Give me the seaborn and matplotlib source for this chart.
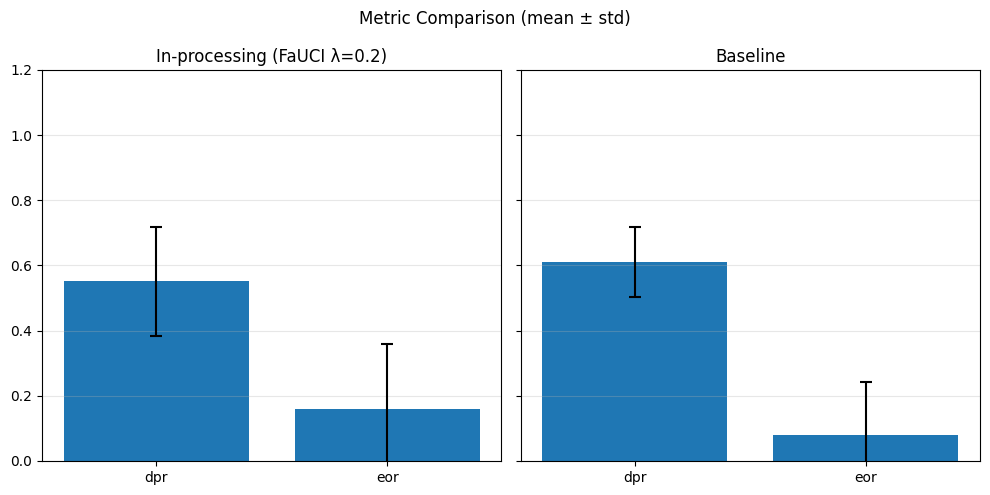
import matplotlib
matplotlib.use("Agg")
import matplotlib.pyplot as plt
import seaborn as sns
import pandas as pd

metrics = ["dpr", "eor"]
inproc_mean = [0.551, 0.160]
inproc_std = [0.167, 0.200]
base_mean = [0.611, 0.079]
base_std = [0.107, 0.163]
titles = ["In-processing (FaUCI λ=0.2)", "Baseline"]

fig, axes = plt.subplots(1, 2, figsize=(9.9, 4.95), dpi=100, sharey=True)
for ax, means, stds, title in zip(axes, [inproc_mean, base_mean], [inproc_std, base_std], titles):
    df = pd.DataFrame({"metric": metrics, "value": means})
    sns.barplot(data=df, x="metric", y="value", ax=ax, color="#1f77b4", saturation=1, errorbar=None, width=0.8)
    ax.errorbar(range(len(metrics)), means, yerr=stds, fmt="none", ecolor="black", capsize=4, elinewidth=1.5, capthick=1.5)
    ax.set_title(title, fontsize=12)
    ax.xaxis.label.set_visible(False)
    ax.yaxis.label.set_visible(False)
    ax.set_xlim(-0.495, 1.495)
    ax.set_ylim(0, 1.2)
    ax.grid(axis="y", alpha=0.3)
    ax.grid(axis="x", visible=False)
fig.suptitle("Metric Comparison (mean ± std)", fontsize=12)
fig.subplots_adjust(left=42/990, right=980/990, bottom=1-461/495, top=1-70/495, wspace=19/459)
fig.savefig("out.png", dpi=100)
